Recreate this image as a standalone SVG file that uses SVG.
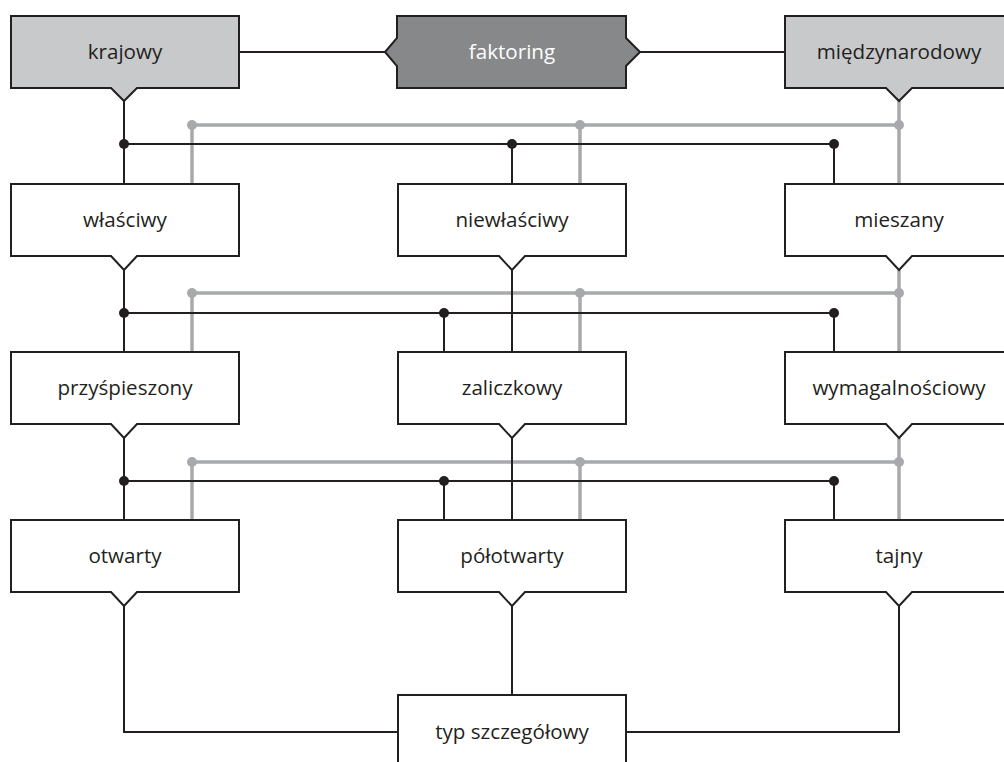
<svg xmlns="http://www.w3.org/2000/svg" width="1004" height="762" viewBox="0 0 1004 762">
<style>
.box{fill:#ffffff;stroke:#231f20;stroke-width:2;stroke-linejoin:miter}
.light{fill:#c8c9cb}
.dark{fill:#87888a}
.t{font-family:"Open Sans","Noto Sans",sans-serif;font-size:20.6px;fill:#231f20;text-anchor:middle}
.tw{fill:#ffffff}
.k{fill:none;stroke:#231f20;stroke-width:2}
.g{fill:none;stroke:#a7a9ac;stroke-width:3.5}
.kd{fill:#231f20}
.gd{fill:#a7a9ac}
</style>
<g id="connectors">
  <path class="k" d="M239,52 H385 M640,52 H785"/>
  <path class="g" d="M192,184 V125 H899 M580,125 V184 M899,101 V184"/>
  <path class="k" d="M124,101 V184 M124,144 H834 V184 M512,144 V184"/>
  <path class="g" d="M192,352 V293 H899 M580,293 V352 M899,270 V352"/>
  <path class="k" d="M124,270 V352 M124,313 H834 V352 M444,313 V352 M512,270 V352"/>
  <path class="g" d="M192,520 V462 H899 M580,462 V520 M899,438 V520"/>
  <path class="k" d="M124,438 V520 M124,481 H834 V520 M444,481 V520 M512,438 V520"/>
  <path class="k" d="M124,606 V732 H398 M899,606 V732 H626 M512,606 V695"/>
  <g class="gd">
    <circle cx="192" cy="125" r="5"/><circle cx="580" cy="125" r="5"/><circle cx="899" cy="125" r="5"/>
    <circle cx="192" cy="293" r="5"/><circle cx="580" cy="293" r="5"/><circle cx="899" cy="293" r="5"/>
    <circle cx="192" cy="462" r="5"/><circle cx="580" cy="462" r="5"/><circle cx="899" cy="462" r="5"/>
  </g>
  <g class="kd">
    <circle cx="124" cy="144" r="5"/><circle cx="512" cy="144" r="5"/><circle cx="834" cy="144" r="5"/>
    <circle cx="124" cy="313" r="5"/><circle cx="444" cy="313" r="5"/><circle cx="834" cy="313" r="5"/>
    <circle cx="124" cy="481" r="5"/><circle cx="444" cy="481" r="5"/><circle cx="834" cy="481" r="5"/>
  </g>
</g>
<g id="krajowy">
  <path class="box light" d="M11,16 H239 V88 H137 L124,101 L111,88 H11 Z"/>
  <text class="t" x="125" y="59">krajowy</text>
</g>
<g id="faktoring">
  <path class="box dark" d="M397,16 H626 V38 L640,52 L626,66 V88 H397 V66 L385,52 L397,38 Z"/>
  <text class="t tw" x="512" y="59">faktoring</text>
</g>
<g id="miedzynarodowy">
  <path class="box light" d="M785,16 H1013 V88 H912 L899,101 L886,88 H785 Z"/>
  <text class="t" x="899" y="59">międzynarodowy</text>
</g>
<g id="wlasciwy">
  <path class="box" d="M11,184 H239 V256 H137 L124,270 L111,256 H11 Z"/>
  <text class="t" x="125" y="227">właściwy</text>
</g>
<g id="niewlasciwy">
  <path class="box" d="M398,184 H626 V256 H525 L512,270 L499,256 H398 Z"/>
  <text class="t" x="512" y="227">niewłaściwy</text>
</g>
<g id="mieszany">
  <path class="box" d="M785,184 H1013 V256 H912 L899,270 L886,256 H785 Z"/>
  <text class="t" x="899" y="227">mieszany</text>
</g>
<g id="przyspieszony">
  <path class="box" d="M11,352 H239 V424 H137 L124,438 L111,424 H11 Z"/>
  <text class="t" x="125" y="395">przyśpieszony</text>
</g>
<g id="zaliczkowy">
  <path class="box" d="M398,352 H626 V424 H525 L512,438 L499,424 H398 Z"/>
  <text class="t" x="512" y="395">zaliczkowy</text>
</g>
<g id="wymagalnosciowy">
  <path class="box" d="M785,352 H1013 V424 H912 L899,438 L886,424 H785 Z"/>
  <text class="t" x="899" y="395">wymagalnościowy</text>
</g>
<g id="otwarty">
  <path class="box" d="M11,520 H239 V592 H137 L124,606 L111,592 H11 Z"/>
  <text class="t" x="125" y="563">otwarty</text>
</g>
<g id="polotwarty">
  <path class="box" d="M398,520 H626 V592 H525 L512,606 L499,592 H398 Z"/>
  <text class="t" x="512" y="563">półotwarty</text>
</g>
<g id="tajny">
  <path class="box" d="M785,520 H1013 V592 H912 L899,606 L886,592 H785 Z"/>
  <text class="t" x="899" y="563">tajny</text>
</g>
<g id="typ-szczegolowy">
  <path class="box" d="M398,695 H626 V780 H398 Z"/>
  <text class="t" x="512" y="739">typ szczegółowy</text>
</g>
</svg>
